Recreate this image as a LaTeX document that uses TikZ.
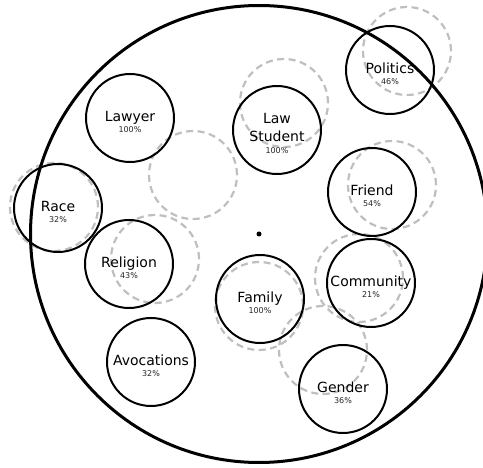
\documentclass[tikz,border=0pt]{standalone}
\usepackage{fontspec}
\setmainfont{DejaVu Sans}
\begin{document}
\begin{tikzpicture}[x=1pt,y=-1pt,
  ring/.style={circle, draw=black, line width=2pt, minimum size=88pt, inner sep=0pt},
  ghost/.style={circle, draw=black!25, line width=2.2pt, dash pattern=on 7pt off 4.5pt, minimum size=88pt, inner sep=0pt},
  topic/.style={anchor=base, inner sep=0pt, font=\fontsize{14}{17}\selectfont},
  share/.style={anchor=base, inner sep=0pt, font=\fontsize{8}{10}\selectfont, text=black!85},
  hub/.style={circle, fill=black, minimum size=5pt, inner sep=0pt}]
\useasboundingbox (0,0) rectangle (483,468);

% dashed rings
\node[ghost] (gPolitics)  at (407,51)  {};
\node[ghost] (gStudent)   at (284,103) {};
\node[ghost] (gEmpty)     at (193,175) {};
\node[ghost] (gFriend)    at (392,185) {};
\node[ghost] (gRace)      at (54,207)  {};
\node[ghost] (gReligion)  at (155,259) {};
\node[ghost] (gFamily)    at (259,306) {};
\node[ghost] (gCommunity) at (359,278) {};
\node[ghost] (gGender)    at (323,350) {};

% outer boundary and its centre
\node[circle, draw=black, line width=3pt, minimum size=457pt, inner sep=0pt] (outer) at (259,234) {};
\node[hub] (centre) at (outer.center) {};

% solid rings
\node[ring] (politics)   at (390,70)  {};
\node[ring] (lawyer)     at (130,118) {};
\node[ring] (student)    at (277,130) {};
\node[ring] (race)       at (58,208)  {};
\node[ring] (friend)     at (372,192) {};
\node[ring] (religion)   at (129,264) {};
\node[ring] (family)     at (260,299) {};
\node[ring] (community)  at (371,283) {};
\node[ring] (avocations) at (151,362) {};
\node[ring] (gender)     at (343,389) {};

% labels
\foreach \n/\t/\p in {politics/Politics/46\%, lawyer/Lawyer/100\%, race/Race/32\%,
    friend/Friend/54\%, religion/Religion/43\%, family/Family/100\%,
    community/Community/21\%, avocations/Avocations/32\%, gender/Gender/36\%} {
  \node[topic] (\n-name) at ([yshift=-4pt]\n.center) {\t};
  \node[share] (\n-pct)  at ([yshift=-15pt]\n.center) {\p};
}
\node[topic] (student-name1) at ([yshift=6pt]student.center) {Law};
\node[topic] (student-name2) at ([yshift=-12pt]student.center) {Student};
\node[share] (student-pct)   at ([yshift=-24pt]student.center) {100\%};
\end{tikzpicture}
\end{document}
